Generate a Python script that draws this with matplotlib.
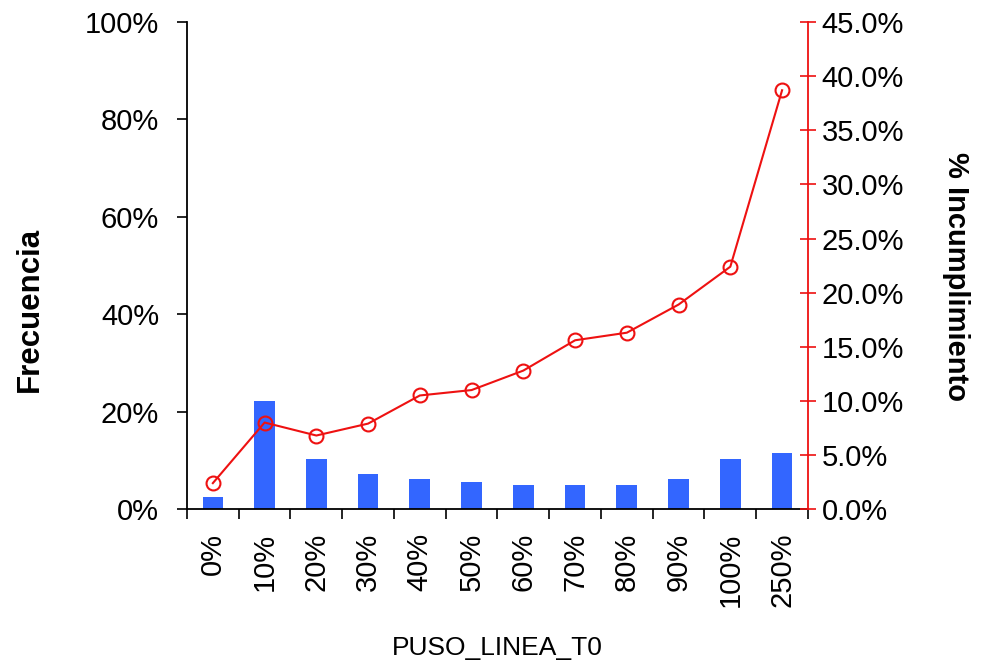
import matplotlib.pyplot as plt
from matplotlib.ticker import FuncFormatter, FixedLocator
import numpy as np

plt.rcParams['font.family'] = ['Liberation Sans', 'DejaVu Sans']

categories = ["0%", "10%", "20%", "30%", "40%", "50%", "60%", "70%", "80%", "90%", "100%", "250%"]
frecuencia = [2.5, 22.2, 10.3, 7.2, 6.2, 5.5, 4.9, 4.9, 4.9, 6.2, 10.3, 11.5]
incumplimiento = [2.4, 8.0, 6.8, 7.9, 10.5, 11.0, 12.8, 15.6, 16.3, 18.9, 22.4, 38.7]

fig = plt.figure(figsize=(9.81, 6.69), dpi=100)
ax = fig.add_axes([0.1906, 0.239, 0.633, 0.728])
x = np.arange(len(categories))

ax.bar(x, frecuencia, width=0.4, color='#3366ff', zorder=2)
ax.set_xlim(-0.5, len(categories) - 0.5)
ax.set_ylim(0, 100)
ax.set_yticks(range(0, 101, 20))
ax.yaxis.set_major_formatter(FuncFormatter(lambda v, p: f"{v:.0f}%"))
ax.tick_params(axis='y', labelsize=21, length=7, width=1.2, direction='out', pad=13)
ax.set_xticks(x)
ax.set_xticklabels(categories, rotation=90, fontsize=21)
ax.tick_params(axis='x', which='major', length=0, pad=17)
ax.xaxis.set_minor_locator(FixedLocator(np.arange(-0.5, len(categories), 1)))
ax.tick_params(axis='x', which='minor', length=7, width=1.2, direction='out')
ax.spines['top'].set_visible(False)
ax.spines['right'].set_visible(False)
ax.spines['left'].set_linewidth(1.3)
ax.spines['bottom'].set_linewidth(1.3)
ax.set_ylabel("Frecuencia", fontsize=22.5, fontweight='bold', labelpad=29)
ax.yaxis.label.set_y(0.41)
ax.set_xlabel("PUSO_LINEA_T0", fontsize=19, labelpad=21)

ax2 = ax.twinx()
ax2.plot(x, incumplimiento, color='#ee1111', linewidth=1.5, marker='o', markersize=10,
         markerfacecolor='none', markeredgecolor='#ee1111', markeredgewidth=1.5, zorder=3)
ax2.set_ylim(0, 45)
ax2.set_yticks(np.arange(0, 45.1, 5))
ax2.yaxis.set_major_formatter(FuncFormatter(lambda v, p: f"{v:.1f}%"))
ax2.tick_params(axis='y', labelsize=21, length=12, width=1.2, direction='inout', color='#ee1111', pad=4)
for s in ['top', 'left', 'bottom']:
    ax2.spines[s].set_visible(False)
ax2.spines['right'].set_color('#ee1111')
ax2.spines['right'].set_linewidth(1.3)
ax2.set_ylabel("% Incumplimiento", fontsize=21, fontweight='bold', rotation=-90, labelpad=47)
ax2.yaxis.label.set_y(0.478)

fig.savefig("out.png", dpi=100)
